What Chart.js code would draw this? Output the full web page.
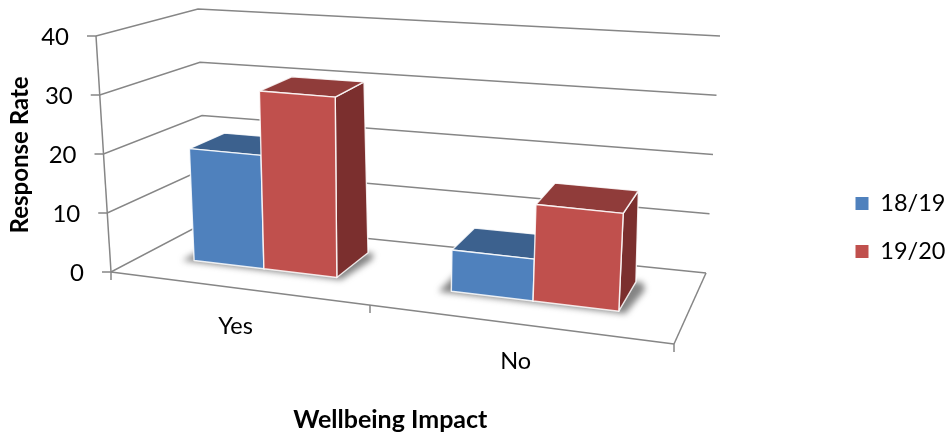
<!DOCTYPE html>
<html>
<head>
<meta charset="utf-8">
<style>html,body{margin:0;padding:0;background:#fff}#wrap{position:relative;width:947px;height:432px}</style>
<script src="https://cdn.jsdelivr.net/npm/chart.js@4"></script>
</head>
<body>
<div id="wrap"><canvas id="c" width="947" height="432"></canvas></div>
<script>
const categories = ['Yes', 'No'];
const seriesNames = ['18/19', '19/20'];
const values1819 = [19.4, 6.8];
const values1920 = [30.4, 15.7];
const axisMax = 40;
const axisStep = 10;
const faceColors = [
  { front: '#4F81BD', top: '#3C618E', side: '#3C618E' },
  { front: '#C0504D', top: '#903C3A', side: '#7B2F2E' }
];

// Oblique box that stands in for the flat plot area.
const floor = { fl: [111, 272], fr: [674, 344], bl: [206, 222], br: [706, 273] };
const rise = { fl: [-15, -236], fr: [14, -260], bl: [-8, -213], br: [14, -237] };
const foreshorten = 0.852;
const barDepth = [0.35, 0.78];
const barTopBack = 0.73;
const gridColor = '#868686';

function mix(a, b, f) { return [a[0] + (b[0] - a[0]) * f, a[1] + (b[1] - a[1]) * f]; }
function bilinear(q, u, d) { return mix(mix(q.fl, q.fr, u), mix(q.bl, q.br, u), d); }

// across: 0..1 along the category axis, depth: 0..1 front to back, level: 0..1 of the value axis
function project(across, depth, level) {
  const u = foreshorten * across / (1 + (foreshorten - 1) * across);
  const base = bilinear(floor, u, depth);
  const up = bilinear(rise, across, depth);
  return [base[0] + up[0] * level, base[1] + up[1] * level];
}

function poly(ctx, pts, fill, edge) {
  ctx.beginPath();
  pts.forEach((p, i) => i ? ctx.lineTo(p[0], p[1]) : ctx.moveTo(p[0], p[1]));
  ctx.closePath();
  if (fill) { ctx.fillStyle = fill; ctx.fill(); }
  if (edge) { ctx.strokeStyle = edge; ctx.lineWidth = 1.4; ctx.lineJoin = 'round'; ctx.stroke(); }
}

function segment(ctx, a, b) {
  ctx.beginPath();
  ctx.moveTo(a[0], a[1]);
  ctx.lineTo(b[0], b[1]);
  ctx.stroke();
}

const box3d = {
  id: 'box3d',
  afterLayout(chart) {
    // the legend keeps its own drawing but sits further out than the fitted box
    const lg = chart.legend;
    lg.left = 831;
    lg.right = 947;
    lg.top -= 10;
    lg.bottom -= 10;
  },
  beforeDatasetsDraw(chart) {
    const ctx = chart.ctx;
    const y = chart.scales.y;
    const x = chart.scales.x;
    const area = chart.chartArea;
    const toAcross = px => (px - area.left) / (area.right - area.left);
    const toLevel = px => y.getValueForPixel(px) / axisMax;

    ctx.save();
    ctx.strokeStyle = gridColor;
    ctx.lineWidth = 1.5;

    // walls and floor
    y.ticks.forEach(t => {
      const lv = t.value / axisMax;
      const a = project(0, 0, lv), b = project(0, 1, lv), c = project(1, 1, lv);
      ctx.beginPath();
      ctx.moveTo(a[0] - 9, a[1]);
      ctx.lineTo(a[0], a[1]);
      ctx.lineTo(b[0], b[1]);
      ctx.lineTo(c[0], c[1]);
      ctx.stroke();
    });
    segment(ctx, project(0, 0, 0), project(0, 0, 1));
    segment(ctx, project(0, 0, 0), project(1, 0, 0));
    segment(ctx, project(1, 0, 0), project(1, 1, 0));
    [0, 0.5, 1].forEach(s => {
      const p = project(s, 0, 0);
      segment(ctx, p, [p[0], p[1] + 8]);
    });

    // soft contact shadows below each category's bars
    const metas = chart.getSortedVisibleDatasetMetas();
    categories.forEach((_, i) => {
      const first = metas[0].data[i], last = metas[metas.length - 1].data[i];
      const s0 = toAcross(first.x - first.width / 2) - 0.02;
      const s1 = toAcross(last.x + last.width / 2) + 0.012;
      ctx.save();
      ctx.filter = 'blur(3px)';
      poly(ctx, [
        project(s0, barDepth[0] - 0.025, 0), project(s1, barDepth[0] - 0.025, 0),
        project(s1 + 0.01, barDepth[1] - 0.1, 0), project(s1, barDepth[1], 0), project(s0, barDepth[1], 0)
      ], 'rgba(80,80,80,0.7)');
      ctx.restore();
    });

    // bars, rear series first
    metas.forEach((meta, di) => {
      const col = faceColors[di];
      meta.data.forEach(el => {
        const s0 = toAcross(el.x - el.width / 2), s1 = toAcross(el.x + el.width / 2);
        const lv = toLevel(el.y);
        const [d0, d1] = barDepth;
        const edge = 'rgba(255,255,255,0.85)';
        poly(ctx, [project(s1, d0, 0), project(s1, d1, 0), project(s1, barTopBack, lv), project(s1, d0, lv)], col.side, edge);
        poly(ctx, [project(s0, d0, lv), project(s1, d0, lv), project(s1, barTopBack, lv), project(s0, barTopBack, lv)], col.top, edge);
        poly(ctx, [project(s0, d0, 0), project(s1, d0, 0), project(s1, d0, lv), project(s0, d0, lv)], col.front, edge);
      });
    });

    // tick labels follow the slanted axes
    ctx.fillStyle = '#000';
    ctx.font = '24px Lato';
    ctx.textBaseline = 'middle';
    ctx.textAlign = 'right';
    y.ticks.forEach(t => {
      const p = project(0, 0, t.value / axisMax);
      ctx.fillText(t.label, p[0] - 27, p[1] + 1.5);
    });
    ctx.font = '23.5px Lato';
    ctx.textAlign = 'center';
    x.ticks.forEach((t, i) => {
      const p = project(toAcross(x.getPixelForTick(i)), 0, 0);
      ctx.fillText(x.getLabelForValue(t.value), p[0], p[1] + 38);
    });
    ctx.restore();
    return false;
  }
};

new Chart(document.getElementById('c'), {
  type: 'bar',
  data: {
    labels: categories,
    datasets: [
      { label: seriesNames[0], data: values1819, backgroundColor: faceColors[0].front, borderWidth: 0, categoryPercentage: 0.574, barPercentage: 1 },
      { label: seriesNames[1], data: values1920, backgroundColor: faceColors[1].front, borderWidth: 0, categoryPercentage: 0.574, barPercentage: 1 }
    ]
  },
  options: {
    responsive: false,
    animation: false,
    layout: { padding: { left: 0, top: 40, right: 138, bottom: -3 } },
    plugins: {
      tooltip: { enabled: false },
      legend: {
        position: 'right',
        labels: {
          boxWidth: 13, boxHeight: 13, padding: 24.5,
          color: '#000',
          font: { family: 'Lato', size: 23.5 }
        }
      }
    },
    scales: {
      x: {
        grid: { display: false },
        border: { display: false },
        ticks: { display: true, color: 'rgba(0,0,0,0)', font: { size: 1 }, padding: 0 },
        title: {
          display: true, text: 'Wellbeing Impact', color: '#000',
          font: { family: 'Lato', size: 25, weight: 'bold' },
          padding: { top: 126, bottom: 0 }
        }
      },
      y: {
        min: 0, max: axisMax,
        grid: { display: false },
        border: { display: false },
        ticks: { stepSize: axisStep, color: 'rgba(0,0,0,0)', font: { size: 1 }, padding: 0 },
        title: {
          display: true, text: 'Response Rate', color: '#000',
          font: { family: 'Lato', size: 24, weight: 'bold' },
          padding: { top: 6, bottom: 0 }
        },
        afterFit(scale) { scale.width = 96; }
      }
    }
  },
  plugins: [box3d]
});
</script>
</body>
</html>
